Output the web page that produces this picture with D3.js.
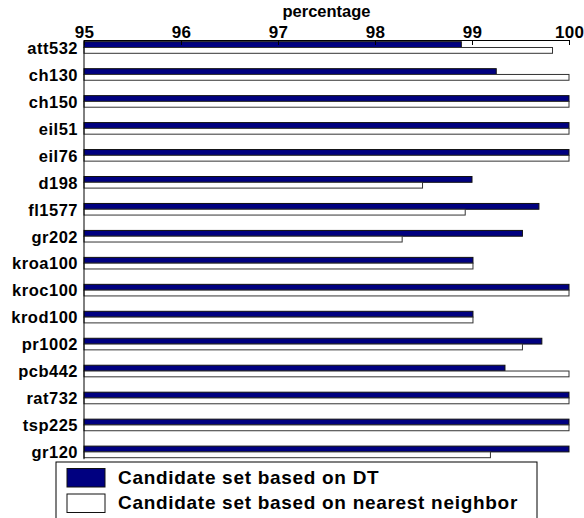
<!DOCTYPE html>
<html>
<head>
<meta charset="utf-8">
<script src="https://cdn.jsdelivr.net/npm/d3@7"></script>
<style>
  html, body { margin: 0; padding: 0; background: #fff; }
  svg { display: block; font-family: "Liberation Sans", Arial, sans-serif; }
</style>
</head>
<body>
<svg id="chart" width="584" height="518"></svg>
<script>
// Instances (top to bottom)
const instances = ["att532", "ch130", "ch150", "eil51", "eil76", "d198", "fl1577", "gr202",
  "kroa100", "kroc100", "krod100", "pr1002", "pcb442", "rat732", "tsp225", "gr120"];

// Percentage for each candidate set
const dtValues = [98.89, 99.25, 100, 100, 100, 99.0, 99.69, 99.52,
  99.01, 100, 99.01, 99.72, 99.34, 100, 100, 100];
const nnValues = [99.83, 100, 100, 100, 100, 98.49, 98.93, 98.28,
  99.01, 100, 99.01, 99.52, 100, 100, 100, 99.19];

const seriesNames = ["Candidate set based on DT", "Candidate set based on nearest neighbor"];
const seriesFill = ["#000080", "#ffffff"];
const xTicks = [95, 96, 97, 98, 99, 100];
const xDomain = [95, 100];
const axisTitle = "percentage";

const svg = d3.select("#chart");

const x = d3.scaleLinear().domain(xDomain).range([84, 569]);
const y0 = d3.scaleBand().domain(instances).range([41.7, 457.7]).paddingInner(0.57).paddingOuter(0);
const y1 = d3.scaleBand().domain(d3.range(seriesNames.length)).range([0, y0.bandwidth()]);
const axisY = 40;

const rows = instances.map((name, i) => ({ name, values: [dtValues[i], nnValues[i]] }));

// Bars
const g = svg.append("g");
const groups = g.selectAll("g.row").data(rows).join("g")
  .attr("class", "row")
  .attr("transform", d => `translate(0,${y0(d.name)})`);

groups.selectAll("rect").data(d => d.values.map((v, k) => ({ v, k }))).join("rect")
  .attr("x", x(xDomain[0]))
  .attr("y", d => y1(d.k))
  .attr("width", d => x(d.v) - x(xDomain[0]))
  .attr("height", y1.bandwidth())
  .attr("fill", d => seriesFill[d.k])
  .attr("stroke", d => d.k === 0 ? "#111" : "#333")
  .attr("stroke-width", 1);

// Top value axis
const xAxis = d3.axisTop(x).tickValues(xTicks).tickFormat(d3.format("d"))
  .tickSizeInner(-5).tickSizeOuter(0).tickPadding(2);
const gx = svg.append("g").attr("transform", `translate(0,${axisY})`).call(xAxis);
gx.select(".domain").attr("stroke", "#000");
gx.selectAll(".tick line").attr("stroke", "#000");
gx.selectAll(".tick text")
  .attr("font-size", 17).attr("font-weight", "bold").attr("fill", "#000")
  .attr("letter-spacing", 0.3);

// Category axis
const yAxis = d3.axisLeft(y0).tickSize(0).tickPadding(6);
const gy = svg.append("g").attr("transform", `translate(${x(xDomain[0])},0)`).call(yAxis);
gy.select(".domain").remove();
gy.append("line")
  .attr("x1", 0).attr("x2", 0)
  .attr("y1", axisY).attr("y2", y0.range()[1] + 1.5)
  .attr("stroke", "#000");
gy.selectAll(".tick text")
  .attr("font-size", 16.5).attr("font-weight", "bold").attr("fill", "#000")
  .attr("letter-spacing", 0.5).attr("dy", "0.38em");

// Axis title
svg.append("text")
  .attr("x", (x.range()[0] + x.range()[1]) / 2)
  .attr("y", 17)
  .attr("text-anchor", "middle")
  .attr("font-size", 16.5).attr("font-weight", "bold")
  .text(axisTitle);

// Legend
const legend = svg.append("g").attr("transform", "translate(56,462)");
legend.append("rect")
  .attr("x", 0).attr("y", 0).attr("width", 481).attr("height", 60)
  .attr("fill", "#fff").attr("stroke", "#000").attr("stroke-width", 1);
const items = legend.selectAll("g.item").data(seriesNames).join("g")
  .attr("class", "item")
  .attr("transform", (d, i) => `translate(11,${6.5 + i * 25.5})`);
items.append("rect")
  .attr("width", 38).attr("height", 18.5)
  .attr("fill", (d, i) => seriesFill[i])
  .attr("stroke", "#111");
items.append("text")
  .attr("x", 51).attr("y", 15)
  .attr("font-size", 19).attr("font-weight", "bold")
  .attr("letter-spacing", 0.7)
  .text(d => d);
</script>
</body>
</html>
